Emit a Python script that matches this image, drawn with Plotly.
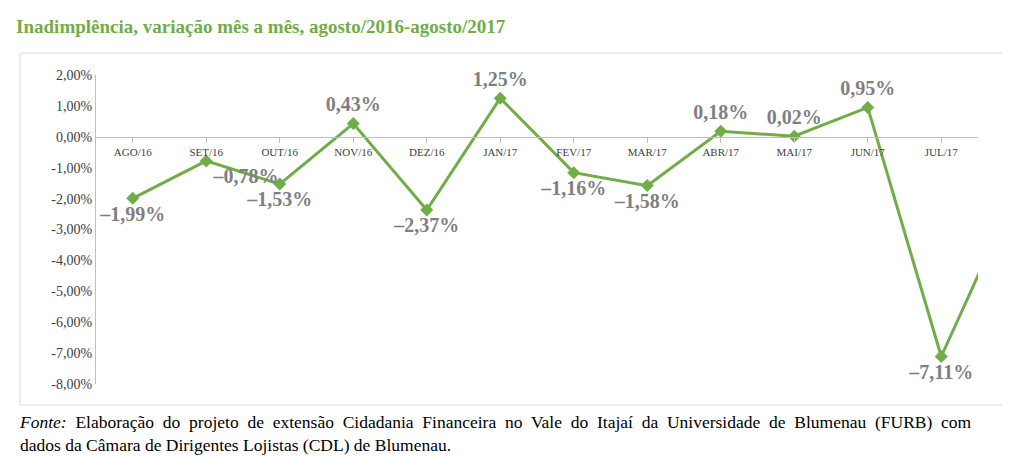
import plotly.graph_objects as go

months = ["AGO/16","SET/16","OUT/16","NOV/16","DEZ/16","JAN/17","FEV/17","MAR/17","ABR/17","MAI/17","JUN/17","JUL/17","AGO/17"]
values = [-1.99,-0.78,-1.53,0.43,-2.37,1.25,-1.16,-1.58,0.18,0.02,0.95,-7.11,-1.87]
positions = ["bottom center","bottom right","bottom center","top center","bottom center","top center","bottom center","bottom center","top center","top center","top center","bottom center","top center"]
labels = [f"<b>{v:.2f}%</b>".replace(".", ",").replace("-", "–") for v in values]
yticks = [2,1,0,-1,-2,-3,-4,-5,-6,-7,-8]
yticklabels = [f"{t:.2f}%".replace(".", ",") for t in yticks]

green = "#70ad47"
fig = go.Figure(go.Scatter(
    x=list(range(len(months))), y=values, mode="lines+markers+text",
    line=dict(color=green, width=3), marker=dict(symbol="diamond", size=10, color=green),
    text=labels, textposition=positions,
    textfont=dict(family="Liberation Serif", size=20, color="#7f7f7f"),
    cliponaxis=False, hoverinfo="skip"))

fig.update_layout(
    width=1010, height=457, plot_bgcolor="white", paper_bgcolor="white",
    margin=dict(l=88, r=40, t=67, b=81, autoexpand=False), showlegend=False,
    title=dict(text="<b>Inadimplência, variação mês a mês, agosto/2016-agosto/2017</b>",
               x=0.008, xanchor="left", y=0.975, yanchor="top",
               font=dict(family="Liberation Serif", size=19, color=green)),
    xaxis=dict(range=[-0.5, 12.5], tickvals=list(range(len(months))), ticktext=months,
               anchor="free", position=0.8, showline=True, linecolor="#bfbfbf", linewidth=1,
               ticks="outside", ticklen=5, tickcolor="#bfbfbf", showgrid=False, zeroline=False,
               tickfont=dict(family="Liberation Serif", size=11, color="#404040")),
    yaxis=dict(range=[-8, 2], tickvals=yticks, ticktext=yticklabels, showgrid=False,
               zeroline=False, showline=True, linecolor="#bfbfbf", ticks="",
               tickfont=dict(family="Liberation Serif", size=14, color="#404040")),
)
fig.update_xaxes(range=[-0.5, 11.5 + 1.0 - 1.0 + 0.0])
fig.add_shape(type="rect", xref="paper", yref="paper", x0=-0.0862, x1=1.0487, y0=-0.068, y1=1.071,
              line=dict(color="#d9d9d9", width=1))
line1 = "<i>Fonte:</i> Elaboração do projeto de extensão Cidadania Financeira no Vale do Itajaí da Universidade de Blumenau (FURB) com"
line1 = line1.replace(" ", "&nbsp; ").replace("<i>Fonte:</i>&nbsp; ", "<i>Fonte:</i>&nbsp; ")
fig.add_annotation(xref="paper", yref="paper", x=-0.09, y=-0.085, xanchor="left", yanchor="top",
                   showarrow=False, align="left",
                   text=line1.replace("<i>Fonte:&nbsp; </i>", "<i>Fonte:</i>") + "<br>dados da Câmara de Dirigentes Lojistas (CDL) de Blumenau.",
                   font=dict(family="Liberation Serif", size=17.5, color="#000000"))
fig.write_html("out.html")
